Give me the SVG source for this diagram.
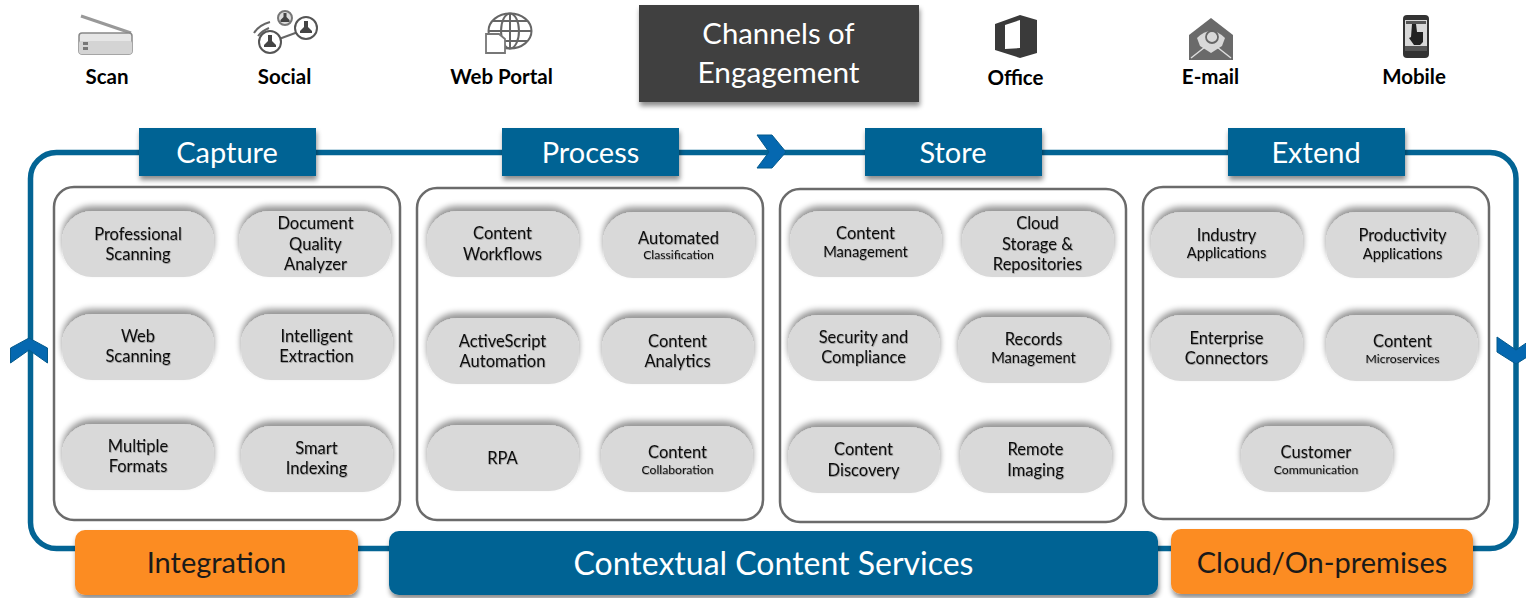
<svg xmlns="http://www.w3.org/2000/svg" width="1526" height="598" viewBox="0 0 1526 598">
<style>
text{font-family:"Lato","Open Sans","Liberation Sans",sans-serif;text-anchor:middle}
.pill{fill:#d9d9d9;filter:url(#up)}
.panel{fill:#fff;stroke:#6b6b6b;stroke-width:2.5}
.t{font-size:16.5px;fill:#111;filter:url(#ts)}
.s{font-size:12.2px;fill:#111;filter:url(#ts)}
.m{font-size:14.7px;fill:#111;filter:url(#ts)}
.hd{fill:#036494;filter:url(#down)}
.hdt{font-size:29px;fill:#fff}
.org{fill:#fc8c23;filter:url(#down)}
.ot{font-size:29px;fill:#1a1a1a}
.ch{font-size:20.500px;font-weight:700;fill:#000}
.ic{fill:none;stroke:#666;stroke-width:2}
.icf{fill:#444}
.chev{fill:#0568b0;stroke:#045a8c;stroke-width:1}
</style>
<defs>
<filter id="up" x="-15%" y="-30%" width="130%" height="150%"><feGaussianBlur in="SourceAlpha" stdDeviation="3"/><feOffset dy="-5"/><feComponentTransfer><feFuncA type="linear" slope=".42"/></feComponentTransfer><feMerge><feMergeNode/><feMergeNode in="SourceGraphic"/></feMerge></filter>
<filter id="down" x="-10%" y="-20%" width="120%" height="150%"><feDropShadow dx="1" dy="4" stdDeviation="2.5" flood-color="#000" flood-opacity=".45"/></filter>
<filter id="ts" x="-10%" y="-20%" width="120%" height="150%"><feDropShadow dx=".6" dy=".8" stdDeviation=".7" flood-color="#000" flood-opacity=".35"/></filter>
</defs>
<g id="connectors">
<rect x="30.5" y="152.5" width="1485.500" height="396" rx="26" fill="none" stroke="#036494" stroke-width="5.500"/>
<path class="chev" d="M757 135h15l14 17-14 16h-15l12-16z"/>
<path class="chev" d="M10.500 363v-15l18.500-10 18.500 10v15l-18.500-13z"/>
<path class="chev" d="M1497 337v15l19 12 19-12v-15l-19 13z"/>
</g>
<g id="channel-scan">
<path d="M81 16L131 33" stroke="#999" stroke-width="3" fill="none"/>
<rect x="79" y="33" width="53" height="21" rx="3" fill="#e6e6e6" stroke="#888" stroke-width="1.500"/>
<rect x="79" y="41" width="53" height="13" rx="2" fill="#d4d4d4"/>
<rect x="83" y="42" width="5" height="3" fill="#777"/><rect x="83" y="47" width="5" height="3" fill="#777"/>
<text class="ch" x="107" y="84">Scan</text>
</g>
<g id="channel-social">
<path d="M279 39L298 32" stroke="#666" stroke-width="2"/>
<circle cx="285" cy="18" r="7" fill="#ddd" stroke="#777" stroke-width="2"/><path class="icf" d="M283.500 13h3v4l3 3v2h-9v-2l3-3z"/>
<circle cx="306" cy="28" r="11" fill="#fff" stroke="#555" stroke-width="2"/><path class="icf" d="M304 21h4v6l4 4v2h-12v-2l4-4z"/>
<circle cx="270" cy="42" r="11" fill="#fff" stroke="#555" stroke-width="2"/><path class="icf" d="M268 35h4v6l4 4v2h-12v-2l4-4z"/>
<path class="ic" d="M254 33q5-8 16-11M258 36q4-5 11-8" stroke-width="1.800" stroke="#888"/>
<text class="ch" x="284.500" y="84">Social</text>
</g>
<g id="channel-web-portal">
<ellipse class="ic" cx="510" cy="31" rx="21.500" ry="17.500" stroke="#777"/>
<ellipse class="ic" cx="510" cy="31" rx="9" ry="17.500" stroke="#777"/>
<path class="ic" d="M510 13v35M489 31h43M492 21h36M492 41h36" stroke-width="1.500" stroke="#777"/>
<path d="M486 34h13l6 5v14h-19z" fill="#fff" stroke="#777" stroke-width="1.800"/>
<text class="ch" x="501.500" y="84">Web Portal</text>
</g>
<g id="channels-of-engagement">
<rect x="639" y="5" width="280" height="97" fill="#404040" filter="url(#down)"/>
<text x="778.500" y="44" font-size="29.300" fill="#fff">Channels of</text>
<text x="778.500" y="83" font-size="29.800" fill="#fff">Engagement</text>
</g>
<g id="channel-office">
<path d="M995 24L1020 15l17 5v33l-17 5-25-8zM1005 25v24l15-1V20z" fill="#3a3a3a" fill-rule="evenodd"/>
<text class="ch" x="1015.500" y="85">Office</text>
</g>
<g id="channel-email">
<path d="M1189 35L1211 18l22 17v25h-44z" fill="#6a6a6a"/>
<path d="M1197 38q14-14 28 0l-3 8-11 7-11-7z" fill="#d8d8d8"/>
<circle cx="1212" cy="37" r="6" fill="none" stroke="#666" stroke-width="1.800"/>
<path d="M1191 58l14-11M1231 58l-14-11" stroke="#ddd" stroke-width="1.500"/>
<text class="ch" x="1210.500" y="84">E-mail</text>
</g>
<g id="channel-mobile">
<rect x="1403" y="15" width="26" height="43" rx="4" fill="#333"/>
<rect x="1405" y="20" width="22" height="31" fill="#d8d8d8"/>
<rect x="1406" y="21" width="20" height="3" fill="#555"/>
<path d="M1412 24h4l1 8h6v10l-3 3h-6l-5-7 2-1z" fill="#222"/>
<rect x="1405" y="46" width="22" height="5" fill="#555"/>
<text class="ch" x="1414" y="84">Mobile</text>
</g>
<g id="capture">
<rect class="panel" x="54" y="187" width="346" height="333" rx="20"/>
<rect class="hd" x="139" y="128" width="177" height="48"/>
<text class="hdt" x="227" y="163">Capture</text>
</g>
<g id="capture-professional"><rect class="pill" x="62" y="211" width="152" height="66" rx="30"/><text class="t" x="138" y="240">Professional</text><text class="t" x="138" y="260">Scanning</text></g>
<g id="capture-dq"><rect class="pill" x="239" y="211" width="152" height="66" rx="30"/><text class="t" x="315.500" y="229">Document</text><text class="t" x="315.500" y="250">Quality</text><text class="t" x="315.500" y="270">Analyzer</text></g>
<g id="capture-web"><rect class="pill" x="62" y="314" width="152" height="66" rx="30"/><text class="t" x="138" y="342">Web</text><text class="t" x="138" y="362">Scanning</text></g>
<g id="capture-intelligent"><rect class="pill" x="241" y="314" width="152" height="66" rx="30"/><text class="t" x="316.500" y="342">Intelligent</text><text class="t" x="316.500" y="362">Extraction</text></g>
<g id="capture-multiple"><rect class="pill" x="62" y="424" width="152" height="66" rx="30"/><text class="t" x="138" y="452">Multiple</text><text class="t" x="138" y="472">Formats</text></g>
<g id="capture-smart"><rect class="pill" x="241" y="426" width="152" height="66" rx="30"/><text class="t" x="316.500" y="454">Smart</text><text class="t" x="316.500" y="474">Indexing</text></g>
<g id="process">
<rect class="panel" x="417" y="188" width="346" height="332" rx="20"/>
<rect class="hd" x="502" y="128" width="177" height="48"/>
<text class="hdt" x="590.500" y="163">Process</text>
</g>
<g id="process-workflows"><rect class="pill" x="427" y="211" width="152" height="66" rx="30"/><text class="t" x="502.500" y="239">Content</text><text class="t" x="502.500" y="260">Workflows</text></g>
<g id="process-classification"><rect class="pill" x="603" y="212" width="152" height="66" rx="30"/><text class="t" x="678.500" y="244">Automated</text><text class="s" x="678.500" y="259">Classification</text></g>
<g id="process-activescript"><rect class="pill" x="427" y="318" width="152" height="66" rx="30"/><text class="t" x="502.500" y="347">ActiveScript</text><text class="t" x="502.500" y="367">Automation</text></g>
<g id="process-analytics"><rect class="pill" x="602" y="318" width="152" height="66" rx="30"/><text class="t" x="677.500" y="347">Content</text><text class="t" x="677.500" y="367">Analytics</text></g>
<g id="process-rpa"><rect class="pill" x="427" y="425" width="152" height="66" rx="30"/><text class="t" x="502.500" y="464">RPA</text></g>
<g id="process-collaboration"><rect class="pill" x="601" y="426" width="152" height="66" rx="30"/><text class="t" x="677.500" y="458">Content</text><text class="s" x="677.500" y="474">Collaboration</text></g>
<g id="store">
<rect class="panel" x="780" y="189" width="346" height="333" rx="20"/>
<rect class="hd" x="865" y="128" width="177" height="48"/>
<text class="hdt" x="953" y="163">Store</text>
</g>
<g id="store-management"><rect class="pill" x="790" y="211" width="152" height="66" rx="30"/><text class="t" x="865.500" y="239">Content</text><text class="m" x="865.500" y="257">Management</text></g>
<g id="store-cloud"><rect class="pill" x="962" y="211" width="152" height="66" rx="30"/><text class="t" x="1037.500" y="229">Cloud</text><text class="t" x="1037.500" y="250">Storage &amp;</text><text class="t" x="1037.500" y="270">Repositories</text></g>
<g id="store-security"><rect class="pill" x="788" y="315" width="152" height="66" rx="30"/><text class="t" x="863.500" y="343">Security and</text><text class="t" x="863.500" y="363">Compliance</text></g>
<g id="store-records"><rect class="pill" x="958" y="317" width="152" height="66" rx="30"/><text class="t" x="1033.500" y="345">Records</text><text class="m" x="1033.500" y="363">Management</text></g>
<g id="store-discovery"><rect class="pill" x="788" y="427" width="152" height="66" rx="30"/><text class="t" x="863.500" y="455">Content</text><text class="t" x="863.500" y="476">Discovery</text></g>
<g id="store-remote"><rect class="pill" x="960" y="427" width="152" height="66" rx="30"/><text class="t" x="1035.500" y="455">Remote</text><text class="t" x="1035.500" y="476">Imaging</text></g>
<g id="extend">
<rect class="panel" x="1143" y="187" width="346" height="332" rx="20"/>
<rect class="hd" x="1228" y="128" width="177" height="48"/>
<text class="hdt" x="1316" y="163">Extend</text>
</g>
<g id="extend-industry"><rect class="pill" x="1151" y="212" width="152" height="66" rx="30"/><text class="t" x="1226.500" y="241">Industry</text><text class="m" x="1226.500" y="258">Applications</text></g>
<g id="extend-productivity"><rect class="pill" x="1326" y="212" width="152" height="66" rx="30"/><text class="t" x="1402.500" y="241">Productivity</text><text class="m" x="1402.500" y="259">Applications</text></g>
<g id="extend-enterprise"><rect class="pill" x="1151" y="315" width="152" height="66" rx="30"/><text class="t" x="1226.500" y="344">Enterprise</text><text class="t" x="1226.500" y="364">Connectors</text></g>
<g id="extend-microservices"><rect class="pill" x="1326" y="315" width="152" height="66" rx="30"/><text class="t" x="1402.500" y="347">Content</text><text class="s" x="1402.500" y="363">Microservices</text></g>
<g id="extend-customer"><rect class="pill" x="1241" y="426" width="152" height="66" rx="30"/><text class="t" x="1316" y="458">Customer</text><text class="s" x="1316" y="474">Communication</text></g>
<g id="integration"><rect class="org" x="75" y="530" width="283" height="65" rx="10"/><text class="ot" x="216.500" y="573">Integration</text></g>
<g id="contextual-content-services"><rect class="hd" x="389" y="531" width="769" height="64" rx="10"/><text x="773.500" y="575" font-size="32" fill="#fff">Contextual Content Services</text></g>
<g id="cloud-on-premises"><rect class="org" x="1171" y="529" width="302" height="65" rx="10"/><text class="ot" x="1322" y="573">Cloud/On-premises</text></g>
</svg>
